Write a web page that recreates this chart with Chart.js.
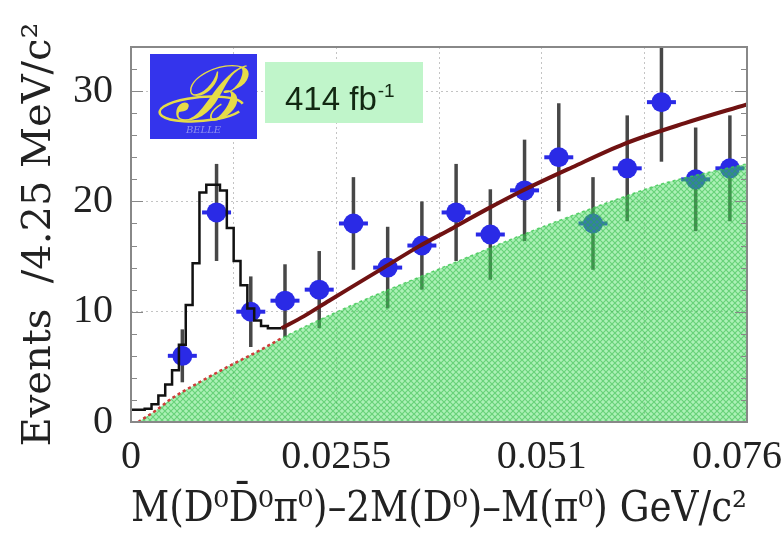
<!DOCTYPE html>
<html lang="en">
<head>
    <meta charset="UTF-8">
    <title>M(D0 D0bar pi0) spectrum</title>
    <script src="https://cdn.jsdelivr.net/npm/chart.js@4.4.1/dist/chart.umd.min.js"></script>
    <style>
        html, body { margin: 0; padding: 0; background: #fff; }
        canvas { display: block; }
    </style>
</head>
<body>
    <canvas id="chart" width="784" height="541"></canvas>
    <script>
        // data points, 4.25 MeV bins (GeV)
        const binCenters = [0.006375, 0.010625, 0.014875, 0.019125, 0.023375, 0.027625, 0.031875, 0.036125,
                            0.040375, 0.044625, 0.048875, 0.053125, 0.057375, 0.061625, 0.065875, 0.070125, 0.074375];
        const counts   = [6, 19, 10, 11, 12, 18, 14, 16, 19, 17, 21, 24, 18, 23, 29, 22, 23];
        const countErr = [2.4, 4.4, 3.2, 3.3, 3.5, 4.2, 3.7, 4.0, 4.4, 4.1, 4.6, 4.9, 4.2, 4.8, 5.4, 4.7, 4.8];

        // fitted total in the peak region, drawn as a fine histogram
        const histEdges = [0, 0.00085, 0.0017, 0.00255, 0.0034, 0.00425, 0.0051, 0.00595, 0.0068, 0.00765, 0.0085, 0.00935,
                           0.0102, 0.01105, 0.0119, 0.01275, 0.0136, 0.01445, 0.0153, 0.01615, 0.017, 0.01785, 0.0187];
        const histValues = [1.1, 1.1, 1.1, 1.2, 1.6, 2.4, 3.4, 4.7, 7.0, 10.6, 14.4, 20.8,
                            21.5, 21.5, 21.0, 17.6, 14.6, 12.4, 10.3, 9.2, 8.7, 8.5, 8.5];

        // fitted total above the peak
        const fitX = [0.0187, 0.0215, 0.0246, 0.028, 0.0314, 0.0357, 0.04, 0.0442, 0.0484, 0.0548, 0.0612, 0.0688, 0.0765];
        const fitY = [8.5, 9.6, 11.0, 12.5, 14.0, 15.9, 17.6, 19.3, 20.9, 23.1, 25.2, 27.1, 28.8];

        // background component
        const bgX = [0.0009, 0.003, 0.005, 0.008, 0.012, 0.016, 0.0187, 0.025, 0.030, 0.036, 0.042, 0.048, 0.054, 0.060, 0.066, 0.0715, 0.0765];
        const bgY = [0, 1.0, 2.1, 3.4, 5.0, 6.5, 7.6, 9.8, 11.4, 13.2, 15.0, 16.8, 18.5, 20.1, 21.6, 22.6, 23.4];

        const xTicks = [0, 0.01275, 0.0255, 0.03825, 0.051, 0.06375, 0.0765];
        const xTickLabels = ['0', '', '0.0255', '', '0.051', '', '0.076'];
        const yTicks = [0, 10, 20, 30];

        const xTitle = 'M(D\u2070D\u0304\u2070\u03c0\u2070)\u20132M(D\u2070)\u2013M(\u03c0\u2070) GeV/c\u00b2';
        const yTitle = 'Events  /4.25 MeV/c\u00b2';
        const lumiText = '414 fb';

        const BLUE = '#2a2ae6';
        const xErr = 0.0018;

        function hatchPattern() {
            const c = document.createElement('canvas');
            c.width = 6; c.height = 6;
            const g = c.getContext('2d');
            g.fillStyle = 'rgba(70,225,95,0.45)';
            g.fillRect(0, 0, 6, 6);
            g.strokeStyle = 'rgba(35,180,60,0.5)';
            g.lineWidth = 1.2;
            g.beginPath();
            g.moveTo(0, 0); g.lineTo(6, 6);
            g.moveTo(6, 0); g.lineTo(0, 6);
            g.stroke();
            return g.createPattern(c, 'repeat');
        }

        const errorBars = {
            id: 'errorBars',
            beforeDatasetsDraw(chart) {
                const {ctx, chartArea: a, scales: {x, y}} = chart;
                ctx.save();
                ctx.beginPath();
                ctx.rect(a.left, a.top, a.width, a.height);
                ctx.clip();
                binCenters.forEach((c, i) => {
                    const px = x.getPixelForValue(c);
                    ctx.strokeStyle = '#474747';
                    ctx.lineWidth = 3.5;
                    ctx.beginPath();
                    ctx.moveTo(px, y.getPixelForValue(counts[i] - countErr[i]));
                    ctx.lineTo(px, y.getPixelForValue(counts[i] + countErr[i]));
                    ctx.stroke();
                    const py = y.getPixelForValue(counts[i]);
                    ctx.strokeStyle = BLUE;
                    ctx.lineWidth = 4;
                    ctx.beginPath();
                    ctx.moveTo(x.getPixelForValue(c - xErr), py);
                    ctx.lineTo(x.getPixelForValue(c + xErr), py);
                    ctx.stroke();
                });
                ctx.restore();
            }
        };

        const decorations = {
            id: 'decorations',
            afterDatasetsDraw(chart) {
                const {ctx, chartArea: a, scales: {y}} = chart;
                ctx.save();
                // frame + inner ticks
                ctx.strokeStyle = '#888';
                ctx.lineWidth = 2;
                ctx.strokeRect(a.left, a.top, a.width, a.height);
                ctx.lineWidth = 1.2;
                ctx.beginPath();
                for (let v = 2; v < 34; v += 2) {
                    const py = Math.round(y.getPixelForValue(v)) + 0.5;
                    const len = v % 10 === 0 ? 12 : 6;
                    ctx.moveTo(a.left, py); ctx.lineTo(a.left + len, py);
                    ctx.moveTo(a.right, py); ctx.lineTo(a.right - len, py);
                }
                ctx.stroke();

                // Belle logo
                const lx = a.left + 19, ly = a.top + 7, lw = 107, lh = 85;
                ctx.fillStyle = '#3434ec';
                ctx.fillRect(lx, ly, lw, lh);
                const cx = lx + lw / 2;
                ctx.strokeStyle = '#e6dc48';
                ctx.lineWidth = 2.5;
                ctx.beginPath();
                ctx.ellipse(cx - 2, ly + 55, 42, 12, -0.08, 0.15 * Math.PI, 1.95 * Math.PI);
                ctx.stroke();
                ctx.fillStyle = '#e6dc48';
                ctx.textAlign = 'center';
                ctx.textBaseline = 'alphabetic';
                ctx.font = 'italic 76px "DejaVu Serif", serif';
                ctx.fillText('\u212c', cx + 2, ly + 66);
                ctx.fillStyle = '#8f8fef';
                ctx.font = 'italic 10px "DejaVu Serif", serif';
                ctx.fillText('BELLE', cx, ly + 79);

                // luminosity box
                const bx = a.left + 134, by = a.top + 15, bw = 158, bh = 61;
                ctx.fillStyle = 'rgb(192,245,202)';
                ctx.fillRect(bx, by, bw, bh);
                ctx.fillStyle = '#122812';
                ctx.textAlign = 'left';
                ctx.font = '33px "Liberation Sans", Arial, sans-serif';
                const tx = bx + 20, ty = by + 48;
                ctx.fillText(lumiText, tx, ty);
                const w = ctx.measureText(lumiText).width;
                ctx.font = '19px "Liberation Sans", Arial, sans-serif';
                ctx.fillText('-1', tx + w + 1, ty - 13);
                ctx.restore();
            }
        };

        const serif = '"DejaVu Serif", serif';
        const tickFont = {family: '"Liberation Serif", serif', size: 40};

        new Chart(document.getElementById('chart'), {
            type: 'scatter',
            data: {
                datasets: [
                    {
                        type: 'line', label: 'background',
                        data: bgX.map((v, i) => ({x: v, y: bgY[i]})),
                        fill: 'origin', backgroundColor: hatchPattern(),
                        borderColor: 'rgba(60,200,80,0.8)', borderWidth: 1.5, borderDash: [3, 3],
                        pointRadius: 0, cubicInterpolationMode: 'monotone', order: 0
                    },
                    {
                        type: 'line', label: 'background (peak region)',
                        data: bgX.map((v, i) => ({x: v, y: bgY[i]})).filter(p => p.x <= 0.0187),
                        fill: false, borderColor: '#d23c3c', borderWidth: 2.5, borderDash: [3, 3],
                        pointRadius: 0, cubicInterpolationMode: 'monotone', order: -1
                    },
                    {
                        type: 'line', label: 'fit',
                        data: fitX.map((v, i) => ({x: v, y: fitY[i]})),
                        fill: false, borderColor: '#701212', borderWidth: 4,
                        pointRadius: 0, cubicInterpolationMode: 'monotone', order: -1
                    },
                    {
                        type: 'line', label: 'fit (fine bins)',
                        data: histEdges.map((v, i) => ({x: v, y: histValues[i]})),
                        stepped: 'after', fill: false, borderColor: '#111', borderWidth: 2.5,
                        borderJoinStyle: 'miter', pointRadius: 0, order: -1
                    },
                    {
                        type: 'scatter', label: 'data',
                        data: binCenters.map((v, i) => ({x: v, y: counts[i]})),
                        pointRadius: 10, pointHoverRadius: 10,
                        backgroundColor: BLUE, borderColor: BLUE, borderWidth: 0, order: 1
                    }
                ]
            },
            options: {
                responsive: false,
                animation: false,
                events: [],
                layout: {padding: {top: 47, right: 37, left: 0, bottom: 0}},
                plugins: {legend: {display: false}, tooltip: {enabled: false}},
                scales: {
                    x: {
                        type: 'linear', min: 0, max: 0.0765,
                        afterBuildTicks: s => { s.ticks = xTicks.map(v => ({value: v})); },
                        afterFit: s => { s.height = 119; s.paddingLeft = 0; s.paddingRight = 0; },
                        ticks: {
                            autoSkip: false, maxRotation: 0, minRotation: 0, padding: 11,
                            color: '#222', font: tickFont,
                            callback: (v, i) => i === xTickLabels.length - 1 ? xTickLabels[i] + '\u00a0\u00a0' : xTickLabels[i]
                        },
                        grid: {drawTicks: false, color: '#c4c4c4', lineWidth: 1},
                        border: {display: false, dash: [2, 3]},
                        title: {display: true, text: xTitle, color: '#222', font: {family: serif, size: 42}, padding: {top: 0, bottom: 6}}
                    },
                    y: {
                        type: 'linear', min: 0, max: 34,
                        afterBuildTicks: s => { s.ticks = yTicks.map(v => ({value: v})); },
                        afterFit: s => { s.width = 131; s.paddingTop = 0; s.paddingBottom = 0; },
                        ticks: {padding: 18, color: '#222', font: tickFont},
                        grid: {drawTicks: false, color: '#c4c4c4', lineWidth: 1},
                        border: {display: false, dash: [2, 3]},
                        title: {display: true, text: yTitle, color: '#222', font: {family: serif, size: 40}, padding: {top: 16, bottom: 0}}
                    }
                }
            },
            plugins: [errorBars, decorations]
        });
    </script>
</body>
</html>
